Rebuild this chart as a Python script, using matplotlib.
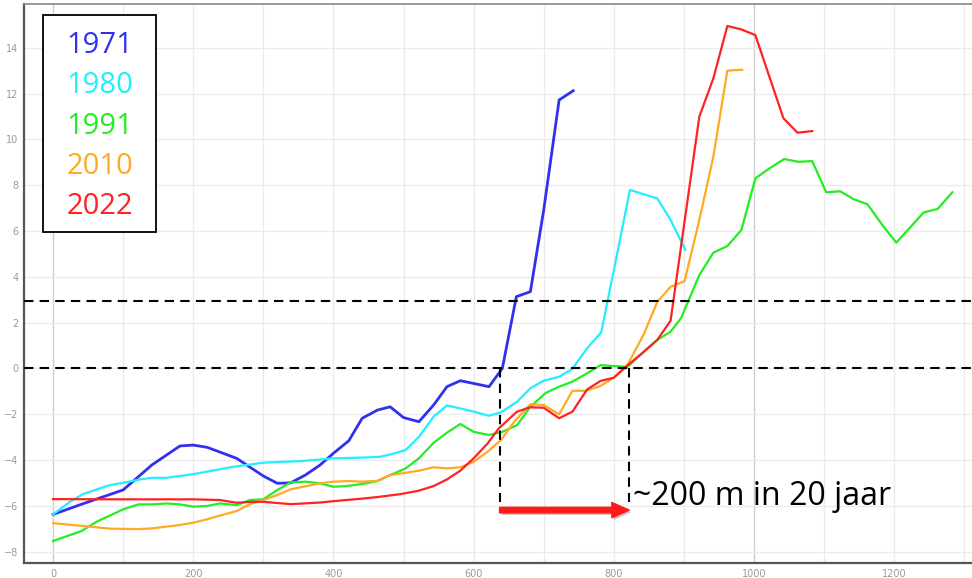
import matplotlib.pyplot as plt
from matplotlib.patches import Rectangle
import matplotlib.patheffects as pe

# data (afstand in m, waarde)
x_1971 = [0, 41, 100, 141, 181, 200, 220, 262, 300, 320, 339, 360, 381, 400, 422, 441, 463, 481, 500, 522,
          543, 562, 581, 600, 622, 641, 661, 681, 700, 722, 742]
y_1971 = [-6.38, -5.93, -5.31, -4.22, -3.39, -3.35, -3.45, -3.93, -4.70, -5.02, -5.0, -4.66, -4.22, -3.71, -3.16,
          -2.18, -1.82, -1.68, -2.15, -2.33, -1.6, -0.8, -0.54, -0.66, -0.80, 0.0, 3.13, 3.35, 6.91, 11.72, 12.12]

x_1980 = [0, 24, 43, 62, 81, 100, 124, 141, 162, 200, 257, 300, 353, 400, 448, 467, 481, 503, 522, 543,
          562, 581, 600, 622, 639, 662, 681, 700, 722, 741, 762, 782, 803, 823, 862, 881, 902]
y_1980 = [-6.38, -5.83, -5.49, -5.29, -5.1, -5.0, -4.85, -4.78, -4.78, -4.62, -4.30, -4.12, -4.05, -3.93, -3.89,
          -3.86, -3.76, -3.57, -2.99, -2.11, -1.62, -1.75, -1.89, -2.07, -1.92, -1.46, -0.87, -0.54, -0.37, -0.02,
          0.88, 1.57, 4.73, 7.79, 7.42, 6.48, 5.17]

x_1991 = [0, 41, 62, 100, 122, 141, 162, 181, 200, 220, 238, 262, 281, 300, 320, 339, 360, 381, 400, 419,
          441, 463, 481, 503, 522, 543, 562, 581, 600, 622, 641, 662, 681, 703, 722, 741, 760, 781, 800, 820,
          843, 862, 881, 896, 922, 942, 962, 982, 1002, 1022, 1043, 1063, 1083, 1103, 1123, 1142, 1162, 1183,
          1203, 1223, 1242, 1262, 1283]
y_1991 = [-7.54, -7.1, -6.7, -6.16, -5.94, -5.94, -5.9, -5.94, -6.04, -6.01, -5.9, -5.97, -5.75, -5.72, -5.31,
          -4.98, -4.95, -5.02, -5.17, -5.14, -5.05, -4.92, -4.66, -4.37, -3.93, -3.25, -2.81, -2.43, -2.77, -2.91,
          -2.77, -2.48, -1.68, -1.07, -0.80, -0.58, -0.25, 0.14, 0.10, 0.07, 0.73, 1.24, 1.6, 2.2, 4.07, 5.05,
          5.34, 6.04, 8.30, 8.73, 9.14, 9.02, 9.05, 7.69, 7.73, 7.39, 7.16, 6.26, 5.49, 6.16, 6.81, 6.96, 7.69]

x_2010 = [0, 62, 81, 122, 141, 181, 200, 220, 238, 262, 281, 300, 320, 339, 362, 381, 400, 422, 441, 463,
          481, 503, 522, 543, 562, 581, 600, 620, 639, 658, 681, 700, 722, 741, 760, 781, 800, 820, 843, 862,
          881, 901, 922, 942, 962, 983]
y_2010 = [-6.76, -6.94, -7.0, -7.02, -6.99, -6.84, -6.74, -6.59, -6.43, -6.23, -5.93, -5.75, -5.53, -5.28, -5.14,
          -5.02, -4.95, -4.92, -4.95, -4.91, -4.66, -4.56, -4.47, -4.32, -4.37, -4.32, -4.08, -3.64, -3.13, -2.33,
          -1.57, -1.60, -2.01, -0.98, -0.98, -0.77, -0.41, 0.18, 1.5, 2.9, 3.56, 3.81, 6.48, 9.24, 13.0, 13.04]

x_2022 = [0, 100, 200, 238, 262, 281, 300, 339, 381, 400, 441, 463, 496, 522, 543, 562, 581, 600, 620, 636,
          662, 681, 700, 722, 741, 762, 781, 800, 820, 843, 862, 881, 922, 942, 962, 982, 1002, 1022, 1042,
          1062, 1083]
y_2022 = [-5.71, -5.72, -5.72, -5.75, -5.87, -5.83, -5.83, -5.93, -5.86, -5.80, -5.69, -5.62, -5.49, -5.34, -5.14,
          -4.85, -4.47, -3.93, -3.28, -2.62, -1.89, -1.70, -1.72, -2.18, -1.89, -0.92, -0.55, -0.41, 0.14, 0.73,
          1.24, 2.08, 10.99, 12.66, 14.95, 14.8, 14.55, 12.73, 10.92, 10.29, 10.36]

jaren = ['1971', '1980', '1991', '2010', '2022']
kleuren = ['#3030ee', '#22eeff', '#22ee22', '#ffaa22', '#ff2222']
reeksen = [(x_1971, y_1971), (x_1980, y_1980), (x_1991, y_1991), (x_2010, y_2010), (x_2022, y_2022)]

niveaus = [0, 2.94]          # horizontale stippellijnen
x_start, x_eind = 637, 822   # kruising met 0 in 1971 en 2022

fig = plt.figure(figsize=(9.72, 5.78), dpi=100)
ax = fig.add_axes([24/972, 15/578, 1 - 24/972, (563 - 4)/578])
ax.set_xlim(-41.4, 1311)
ax.set_ylim(-8.5, 15.91)

for (xs, ys), jaar, c in zip(reeksen, jaren, kleuren):
    ax.plot(xs, ys, color=c, lw=2.0 if jaar == '1971' else 1.6, label=jaar, zorder=3)

for n in niveaus:
    ax.axhline(n, color='black', lw=1.5, dashes=(4.5, 3), zorder=4)
for xv in [x_start, x_eind]:
    ax.plot([xv, xv], [0, -5.83], color='black', lw=1.5, dashes=(4.5, 3), zorder=4)

pijl = ax.annotate('', xy=(x_eind, -6.19), xytext=(x_start, -6.19),
                   arrowprops=dict(facecolor='#ff1a1a', edgecolor='#ff1a1a', width=4, headwidth=11,
                                   headlength=12.5, shrink=0), zorder=5)
pijl.arrow_patch.set_path_effects([pe.SimplePatchShadow(offset=(1.5, -1.5), alpha=0.25), pe.Normal()])
ax.text(828, -5.97, '~200 m in 20 jaar', fontsize=23, family=['Open Sans', 'DejaVu Sans'],
        ha='left', va='baseline', color='black', zorder=6)

# grid
ax.set_xticks(range(0, 1301, 200))
ax.set_yticks(range(-8, 15, 2))
for gx in range(0, 1301, 100):
    ax.axvline(gx, color='#cfcfcf' if gx in (0, 1000) else '#ebebeb', lw=1.0, zorder=0)
for gy in range(-8, 16, 2):
    ax.axhline(gy, color='#ebebeb', lw=1.0, zorder=0)

ax.tick_params(length=0, labelsize=7, colors='#999999', pad=4)
for s in ['left', 'bottom']:
    ax.spines[s].set_color('#555555')
    ax.spines[s].set_linewidth(1.6)
ax.spines['top'].set_color('#888888')
ax.spines['top'].set_linewidth(1.2)
ax.spines['right'].set_visible(False)

# legend: tekst in de lijnkleur, los kader eromheen
kader = Rectangle((43/972, 1 - 232/578), 113/972, 217/578, transform=fig.transFigure,
                  facecolor='white', edgecolor='black', lw=1.3, zorder=7)
ax.add_patch(kader)
leg = ax.legend(loc='upper center', bbox_to_anchor=(100/972, 1 - 31/578), bbox_transform=fig.transFigure,
                handlelength=0, handletextpad=0, labelcolor='linecolor', frameon=False,
                borderpad=0, borderaxespad=0, labelspacing=0.39,
                prop={'family': ['Open Sans', 'DejaVu Sans'], 'size': 21})
for h in leg.legend_handles:
    h.set_visible(False)
leg.set_zorder(8)

fig.savefig('out.png', dpi=100)
